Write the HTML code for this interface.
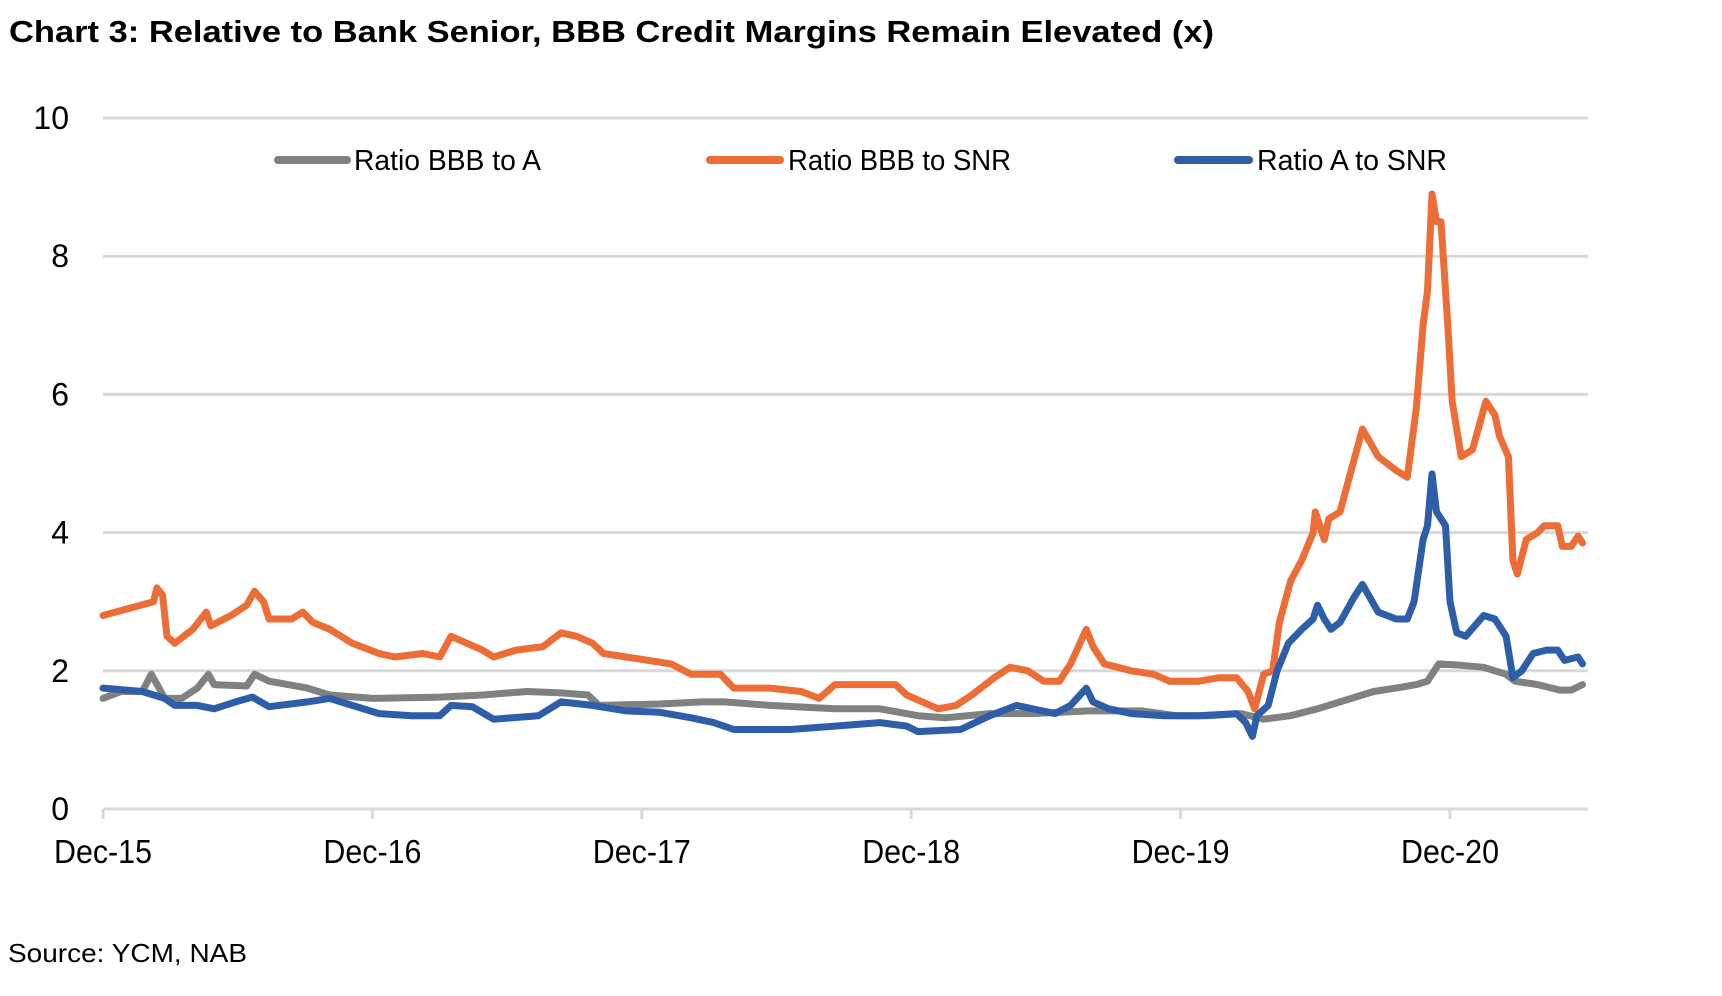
<!DOCTYPE html>
<html><head><meta charset="utf-8"><style>
html,body{margin:0;padding:0;background:#fff;}
svg{display:block;font-family:"Liberation Sans",sans-serif;}
</style></head><body>
<svg id="chart" width="1722" height="996" viewBox="0 0 1722 996" xmlns="http://www.w3.org/2000/svg">
<text x="9" y="42" font-size="31" font-weight="bold" textLength="1205" lengthAdjust="spacingAndGlyphs">Chart 3: Relative to Bank Senior, BBB Credit Margins Remain Elevated (x)</text>
<g id="grid"></g>
<g id="yticks"></g>
<g id="xticks"></g>
<g id="series"></g>
<g>
 <g><line x1="278" y1="160" x2="347" y2="160" stroke="#7f8280" stroke-width="8" stroke-linecap="round"/><text x="354" y="170" font-size="29" textLength="187" lengthAdjust="spacingAndGlyphs">Ratio BBB to A</text></g>
 <g><line x1="710" y1="160" x2="780" y2="160" stroke="#ed6d36" stroke-width="8" stroke-linecap="round"/><text x="788" y="170" font-size="29" textLength="223" lengthAdjust="spacingAndGlyphs">Ratio BBB to SNR</text></g>
 <g><line x1="1178" y1="160" x2="1249" y2="160" stroke="#2e5ea8" stroke-width="8" stroke-linecap="round"/><text x="1257" y="170" font-size="29" textLength="190" lengthAdjust="spacingAndGlyphs">Ratio A to SNR</text></g>
</g>
<text x="8" y="962" font-size="26" textLength="239" lengthAdjust="spacingAndGlyphs">Source: YCM, NAB</text>
</svg>
<script>
// months since Dec-15
const orangeT=[0,2.25,2.4,2.65,2.85,3.2,4.0,4.6,4.8,5.7,6.4,6.75,7.15,7.4,8.4,8.9,9.35,10.1,11.1,12.3,13.0,14.25,15.0,15.5,16.2,16.9,17.4,18.4,19.6,20.4,21.1,21.8,22.3,23.3,24.3,25.3,26.2,27.5,28.1,29.7,31.1,31.9,32.6,34.1,35.3,35.8,36.5,37.2,38.0,38.7,39.7,40.4,41.2,41.9,42.6,43.1,43.8,44.1,44.6,45.8,46.8,47.5,48.8,49.7,50.5,51.0,51.3,51.7,52.1,52.4,52.9,53.4,53.9,54.0,54.4,54.6,55.1,55.6,56.1,56.8,57.6,58.1,58.5,58.8,59.0,59.2,59.4,59.6,59.9,60.1,60.5,61.0,61.6,62.0,62.2,62.6,62.8,63.0,63.4,63.9,64.2,64.8,65.0,65.4,65.7,65.9];
const orangeV=[2.8,3.0,3.2,3.1,2.5,2.4,2.6,2.85,2.65,2.8,2.95,3.15,3.0,2.75,2.75,2.85,2.7,2.6,2.4,2.25,2.2,2.25,2.2,2.5,2.4,2.3,2.2,2.3,2.35,2.55,2.5,2.4,2.25,2.2,2.15,2.1,1.95,1.95,1.75,1.75,1.7,1.6,1.8,1.8,1.8,1.65,1.55,1.45,1.5,1.65,1.9,2.05,2.0,1.85,1.85,2.1,2.6,2.35,2.1,2.0,1.95,1.85,1.85,1.9,1.9,1.7,1.45,1.95,2.0,2.7,3.3,3.6,4.0,4.3,3.9,4.2,4.3,4.9,5.5,5.1,4.9,4.8,5.8,7.0,7.5,8.9,8.5,8.5,7.0,5.9,5.1,5.2,5.9,5.7,5.4,5.1,3.6,3.4,3.9,4.0,4.1,4.1,3.8,3.8,3.95,3.85];
const blueT=[0,1.75,2.75,3.2,4.2,4.95,5.9,6.65,7.4,9.1,10.1,11.1,12.3,13.75,15.0,15.5,16.45,17.4,19.4,20.4,21.8,23.3,24.8,26.2,27.2,28.1,30.6,32.6,34.6,35.8,36.3,38.2,39.5,40.7,41.4,42.4,43.1,43.8,44.1,44.8,45.8,47.3,48.8,50.5,50.9,51.2,51.4,51.9,52.3,52.8,53.4,53.9,54.1,54.4,54.7,55.1,55.7,56.1,56.8,57.6,58.1,58.4,58.8,59.0,59.2,59.4,59.8,60.0,60.3,60.7,61.5,62.0,62.5,62.8,63.2,63.7,64.3,64.8,65.1,65.7,65.9];
const blueV=[1.75,1.7,1.6,1.5,1.5,1.45,1.55,1.62,1.48,1.55,1.6,1.5,1.38,1.35,1.35,1.5,1.48,1.3,1.35,1.55,1.5,1.42,1.4,1.32,1.25,1.15,1.15,1.2,1.25,1.2,1.12,1.15,1.35,1.5,1.45,1.38,1.5,1.75,1.55,1.45,1.38,1.35,1.35,1.38,1.25,1.05,1.35,1.5,2.0,2.4,2.6,2.75,2.95,2.75,2.6,2.7,3.05,3.25,2.85,2.75,2.75,3.0,3.9,4.1,4.85,4.3,4.1,3.0,2.55,2.5,2.8,2.75,2.5,1.9,2.0,2.25,2.3,2.3,2.15,2.2,2.1];
const grayT=[0,0.8,1.75,2.15,2.5,2.75,3.5,4.2,4.7,4.95,6.4,6.75,7.4,9.1,10.1,12.0,15.0,16.9,18.9,20.4,21.6,22.1,24.8,26.7,27.7,29.7,32.6,34.6,36.3,37.5,39.5,41.4,43.9,46.3,47.8,49.2,50.7,51.7,52.9,54.1,55.1,56.6,57.6,58.5,59.0,59.5,60.5,61.5,62.5,62.9,63.9,64.9,65.4,65.9];
const grayV=[1.6,1.7,1.7,1.95,1.75,1.6,1.6,1.75,1.95,1.8,1.78,1.95,1.85,1.75,1.65,1.6,1.62,1.65,1.7,1.68,1.65,1.5,1.52,1.55,1.55,1.5,1.45,1.45,1.35,1.32,1.38,1.38,1.42,1.42,1.35,1.35,1.38,1.3,1.35,1.45,1.55,1.7,1.75,1.8,1.85,2.1,2.08,2.05,1.95,1.85,1.8,1.72,1.72,1.8];
const yTicks=[0,2,4,6,8,10];
const xLabels=["Dec-15","Dec-16","Dec-17","Dec-18","Dec-19","Dec-20"];

const NS="http://www.w3.org/2000/svg";
const X0=103, PX_PER_MONTH=22.45, Y0=809, PX_PER_UNIT=69.1, XR=1588;
function xs(m){return X0+m*PX_PER_MONTH;}
function ys(v){return Y0-v*PX_PER_UNIT;}
function mk(tag,parent,attrs){const e=document.createElementNS(NS,tag);for(const k in attrs)e.setAttribute(k,attrs[k]);parent.appendChild(e);return e;}

const grid=document.getElementById('grid'), yt=document.getElementById('yticks'), xt=document.getElementById('xticks'), ser=document.getElementById('series');
yTicks.forEach(v=>{
  const l=mk('line',grid,{x1:X0,x2:XR,y1:ys(v),y2:ys(v),stroke:'#d9d9d9','stroke-width':3});
  
  
  const t=mk('text',yt,{x:69,y:ys(v)+11,'font-size':32,'text-anchor':'end'});
  t.textContent=String(v);
  
  
});
xLabels.forEach((lab,i)=>{
  const x=xs(i*12);
  const tk=mk('line',xt,{x1:x,x2:x,y1:Y0,y2:Y0+10,stroke:'#d9d9d9','stroke-width':3});
  
  
  const t=mk('text',xt,{x:x,y:863,'font-size':33,'text-anchor':'middle',textLength:98,lengthAdjust:'spacingAndGlyphs'});
  t.textContent=lab;
  
  
});
function line(T,V,color,name){
  const d=T.map((m,i)=>(i?'L':'M')+xs(m).toFixed(1)+' '+ys(V[i]).toFixed(1)).join(' ');
  const p=mk('path',ser,{d:d,fill:'none',stroke:color,'stroke-width':7,'stroke-linejoin':'round','stroke-linecap':'round'});
  
  
}
line(grayT,grayV,'#7f8280','line-ratio-bbb-to-a');
line(orangeT,orangeV,'#ed6d36','line-ratio-bbb-to-snr');
line(blueT,blueV,'#2e5ea8','line-ratio-a-to-snr');
</script>
</body></html>
